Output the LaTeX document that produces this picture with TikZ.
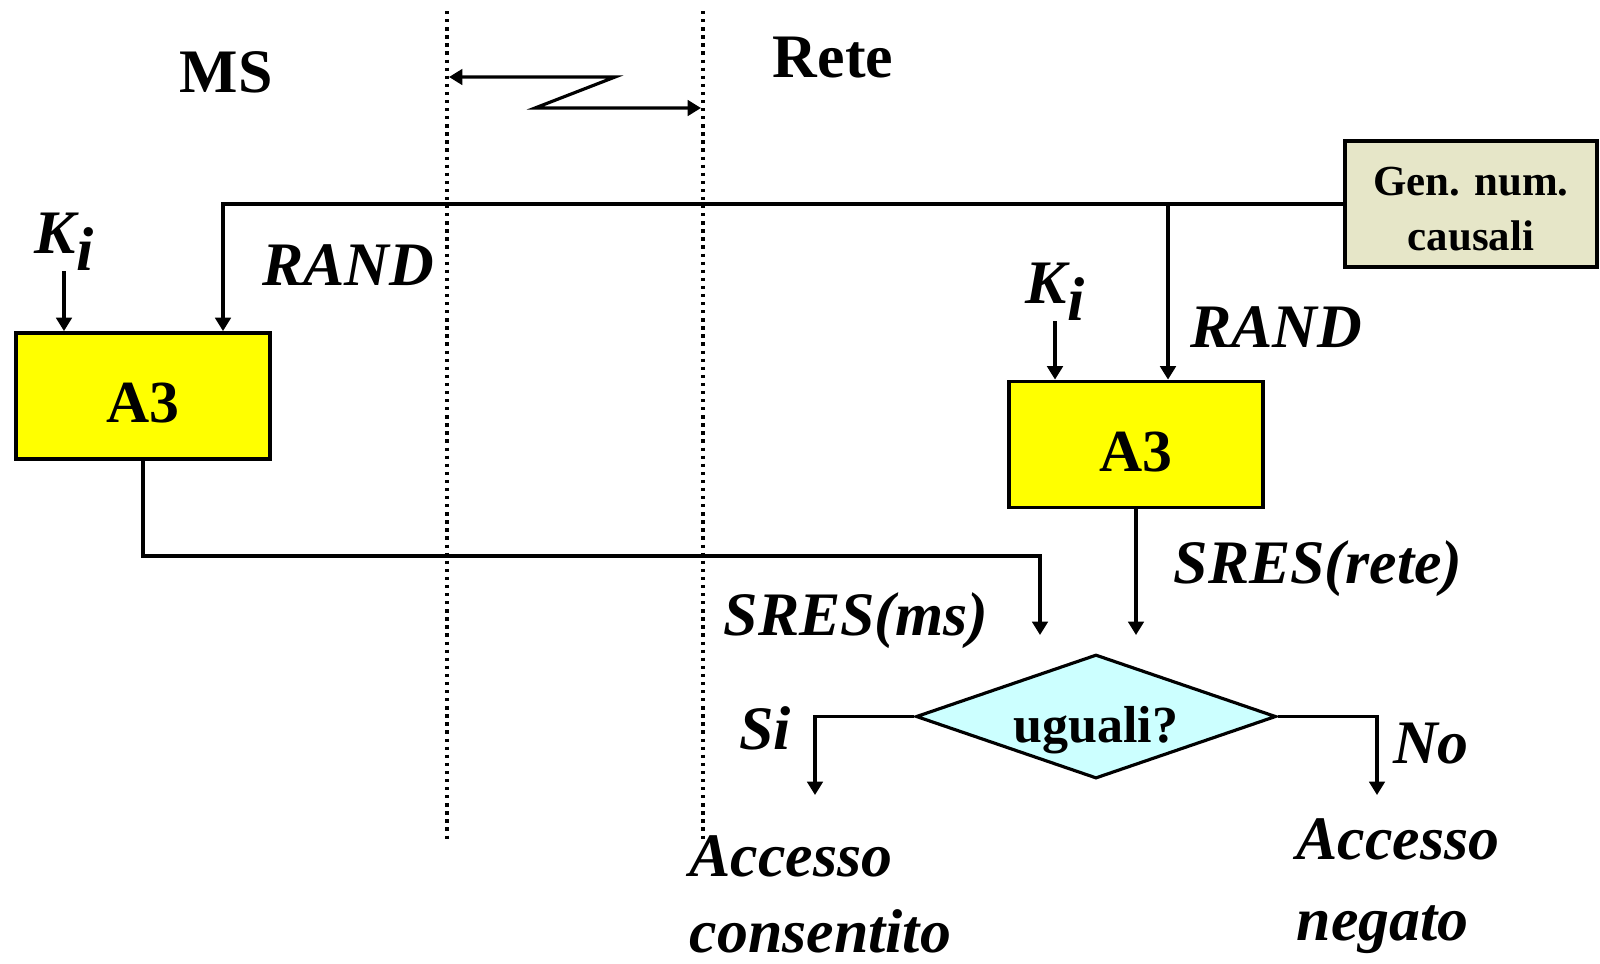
\documentclass[tikz,border=0pt]{standalone}
\usepackage{fontspec}
\setmainfont{Liberation Serif}
\usepackage{xcolor}
\usetikzlibrary{positioning,arrows.meta,shapes.geometric}

\definecolor{algyellow}{RGB}{255,255,0}
\definecolor{genbeige}{RGB}{230,230,200}
\definecolor{cmpcyan}{RGB}{204,255,255}

% key with its index
\newcommand{\Ksub}{K\raisebox{-0.28em}{i}}

\tikzset{
  wire/.style={line width=0.9pt},
  arr/.style={wire, -{Triangle[length=3.8pt,width=4.4pt]}},
  sep/.style={line width=0.95pt, dash pattern=on 0.95pt off 1.35pt},
  big/.style={font=\fontsize{17.6}{23}\selectfont\bfseries, inner sep=0pt},
  lbl/.style={font=\fontsize{17.6}{23}\selectfont\bfseries\itshape, inner sep=0pt},
  algbox/.style={draw, line width=1.1pt, fill=algyellow, minimum width=2.54cm,
                 minimum height=1.26cm, text height=15.2pt, text depth=0pt,
                 font=\fontsize{17}{20}\selectfont\bfseries},
}

\begin{document}
\begin{tikzpicture}
  \useasboundingbox (0,0) rectangle (16,-9.63);

  % the two sides and the radio link
  \node[big] (ms) at (2.26,-0.725) {MS};
  \node[big] (rete) at (8.33,-0.575) {Rete};
  \draw[sep] (4.47,-0.11) -- (4.47,-8.39);
  \draw[sep] (7.03,-0.11) -- (7.03,-8.39);
  \coordinate (zl) at (4.49,-0.77);
  \coordinate (zr) at (7.01,-1.08);
  \draw[wire, {Triangle[length=3.8pt,width=4.4pt]}-{Triangle[length=3.8pt,width=4.4pt]}]
    (zl) -- (6.15,-0.77) -- (5.35,-1.08) -- (zr);

  % blocks
  \node[algbox] (a3l) at (1.43,-3.96) {A3};
  \node[algbox] (a3r) at (11.36,-4.445) {A3};
  \node[draw, line width=1.1pt, fill=genbeige, minimum width=2.52cm, minimum height=1.26cm,
        align=center, inner sep=0pt, font=\fontsize{12.2}{15.6}\selectfont\bfseries]
        (gen) at (14.71,-2.04) {\rule{0pt}{11.1pt}Gen. num.\\causali};
  \node[diamond, draw, line width=0.9pt, fill=cmpcyan, aspect=2.9, inner sep=0pt,
        minimum width=3.6cm, minimum height=1.24cm, text height=14.5pt, text depth=0pt,
        font=\fontsize{14.8}{18}\selectfont\bfseries] (cmp) at (10.96,-7.165) {uguali?};

  % RAND from the generator
  \coordinate (randl) at (2.23,-2.04);
  \coordinate (tap) at (11.68,-2.04);
  \draw[arr] (gen.west) -| (randl |- a3l.north);
  \draw[arr] (tap) -- (tap |- a3r.north);
  \node[lbl] (randlbl) at (3.48,-2.65) {RAND};
  \node[lbl] (randrlbl) at (12.76,-3.27) {RAND};

  % keys
  \node[lbl, anchor=base] (kil) at (0.64,-2.53) {\Ksub};
  \node[lbl, anchor=base] (kir) at (10.55,-3.03) {\Ksub};
  \draw[arr] (kil.south) -- (kil.south |- a3l.north);
  \draw[arr] (kir.south) -- (kir.south |- a3r.north);

  % responses into the comparison
  \coordinate (bend) at (10.40,-5.56);
  \coordinate (msin) at (10.40,-6.35);
  \draw[arr] (a3l.south) |- (bend) -- (msin);
  \draw[arr] (a3r.south) -- (a3r.south |- msin);
  \node[lbl] (sresms) at (8.56,-6.21) {SRES(ms)};
  \node[lbl] (sresrete) at (13.18,-5.69) {SRES(rete)};

  % outcome
  \coordinate (siend) at (8.15,-7.95);
  \coordinate (noend) at (13.77,-7.95);
  \draw[arr] (cmp.west) -| (siend);
  \draw[arr] (cmp.east) -| (noend);
  \node[lbl] (si) at (7.65,-7.285) {Si};
  \node[lbl] (no) at (14.31,-7.435) {No};
  \node[lbl, align=left, anchor=north west, font=\fontsize{17.6}{21.6}\selectfont\bfseries\itshape]
    (ok) at (6.89,-8.35) {Accesso\\consentito};
  \node[lbl, align=left, anchor=north west] (ko) at (12.96,-8.18) {Accesso\\negato};
\end{tikzpicture}
\end{document}
